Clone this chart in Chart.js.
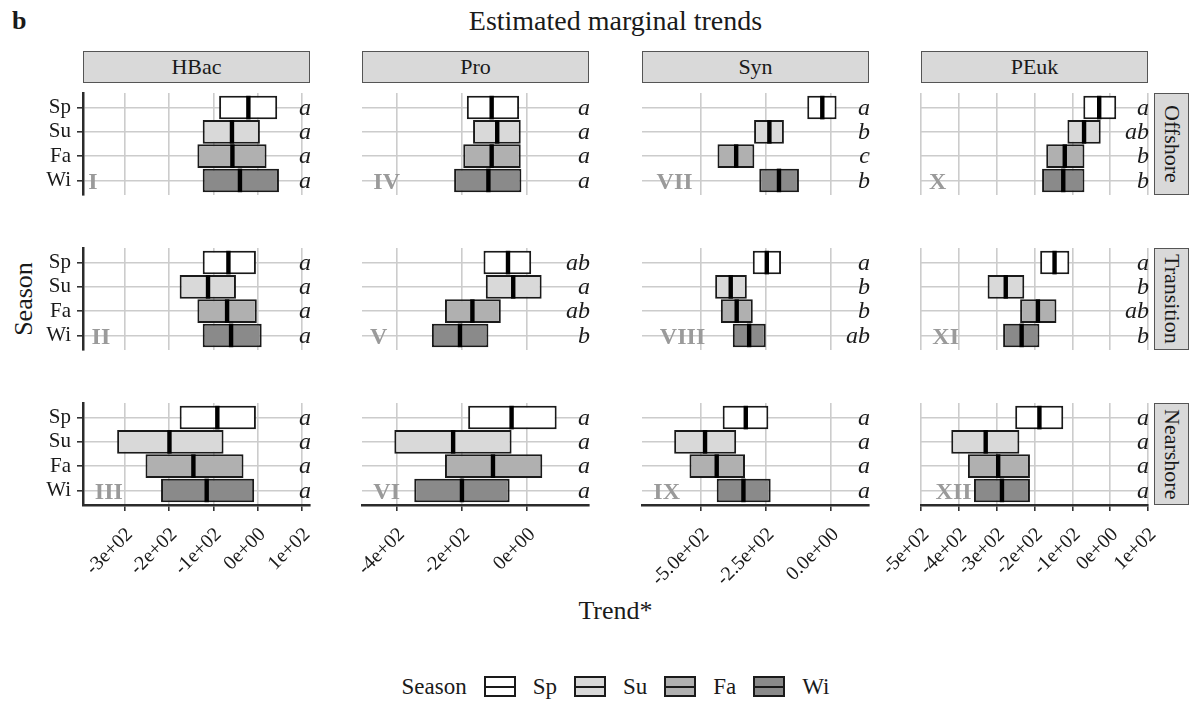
<!DOCTYPE html>
<html>
<head>
<meta charset="utf-8">
<title>Estimated marginal trends</title>
<script src="https://cdn.jsdelivr.net/npm/chart.js@4.4.1/dist/chart.umd.min.js"></script>
<style>
  html, body { margin: 0; padding: 0; background: #fff; }
  body {
    width: 1192px; height: 702px; position: relative; overflow: hidden;
    font-family: 'Liberation Serif', 'Times New Roman', serif; color: #1a1a1a;
  }
  .txt { position: absolute; white-space: nowrap; line-height: 1; }
  .strip {
    position: absolute; box-sizing: border-box; background: #d9d9d9;
    border: 1.5px solid #555; display: flex; align-items: center; justify-content: center;
    font-size: 22px; line-height: 1; color: #1a1a1a;
  }
  .strip.side span { writing-mode: vertical-rl; }
  canvas { position: absolute; }
  .legend {
    position: absolute; left: 83px; width: 1065px; top: 676px; height: 21px;
    display: flex; justify-content: center; align-items: center; font-size: 23px; line-height: 1;
  }
  .legend span { margin-right: 17px; }
  .key {
    width: 32px; height: 21px; box-sizing: border-box; border: 2px solid #1a1a1a;
    position: relative; margin-right: 17px;
  }
  .key::after {
    content: ''; position: absolute; left: 0; right: 0; top: 50%; height: 2px;
    margin-top: -1px; background: #1a1a1a;
  }
</style>
</head>
<body>
<div class="txt" style="left:12px;top:8px;font-size:26px;font-weight:bold;">b</div>
<div class="txt" style="left:83px;width:1065px;top:7px;font-size:28px;text-align:center;">Estimated marginal trends</div>
<div class="txt" style="left:24px;top:299px;font-size:26px;transform:translate(-50%,-50%) rotate(-90deg);">Season</div>
<div class="txt" style="left:83px;width:1065px;top:598px;font-size:26px;text-align:center;">Trend*</div>
<div class="legend" id="legend"></div>

<script>
// ---- data -----------------------------------------------------------------
const seasons = ['Sp', 'Su', 'Fa', 'Wi'];
const groups = ['HBac', 'Pro', 'Syn', 'PEuk'];
const zones = ['Offshore', 'Transition', 'Nearshore'];
const seasonFill = ['#ffffff', '#d9d9d9', '#b0b0b0', '#8a8a8a'];

// lower bound, median and upper bound of the trend; rows = zones, columns = seasons
const hbacLow  = [[-87, -124, -136, -124], [-124, -176, -136, -124], [-176, -317, -253, -218]];
const hbacMid  = [[-21, -58, -57, -40],    [-66, -112, -69, -60],    [-91, -199, -145, -115]];
const hbacHigh = [[44, 5, 20, 48],         [-4, -49, -2, 9],         [-4, -77, -32, -8]];

const proLow  = [[-185, -166, -196, -224], [-134, -127, -252, -292], [-181, -407, -252, -346]];
const proMid  = [[-109, -92, -109, -119],  [-59, -43, -168, -206],   [-48, -227, -105, -200]];
const proHigh = [[-25, -20, -20, -18],     [12, 44, -81, -119],      [90, -48, 46, -54]];

const synLow  = [[-91, -296, -437, -276],  [-301, -446, -424, -378], [-417, -604, -545, -440]];
const synMid  = [[-33, -237, -365, -200],  [-247, -386, -363, -315], [-328, -485, -440, -337]];
const synHigh = [[22, -181, -295, -123],   [-192, -324, -301, -251], [-241, -365, -331, -232]];

const peukLow  = [[-71, -113, -169, -180], [-185, -324, -238, -283], [-251, -420, -376, -360]];
const peukMid  = [[-29, -69, -120, -124],  [-147, -276, -191, -234], [-187, -329, -296, -286]];
const peukHigh = [[16, -25, -68, -68],     [-108, -227, -142, -187], [-124, -240, -212, -212]];

// significance letters per zone and season
const hbacLetters = [['a', 'a', 'a', 'a'], ['a', 'a', 'a', 'a'], ['a', 'a', 'a', 'a']];
const proLetters  = [['a', 'a', 'a', 'a'], ['ab', 'a', 'ab', 'b'], ['a', 'a', 'a', 'a']];
const synLetters  = [['a', 'b', 'c', 'b'], ['a', 'b', 'b', 'ab'], ['a', 'a', 'a', 'a']];
const peukLetters = [['a', 'ab', 'b', 'b'], ['a', 'b', 'ab', 'b'], ['a', 'a', 'a', 'a']];

const panelNumerals = [['I', 'II', 'III'], ['IV', 'V', 'VI'], ['VII', 'VIII', 'IX'], ['X', 'XI', 'XII']];

// free x scale per group
const xMin = [-394, -506, -728, -500];
const xMax = [118, 189, 147, 100];
const xTicks = [
  [-300, -200, -100, 0, 100],
  [-400, -200, 0],
  [-500, -250, 0],
  [-500, -400, -300, -200, -100, 0, 100]
];
const xTickLabels = [
  ['-3e+02', '-2e+02', '-1e+02', '0e+00', '1e+02'],
  ['-4e+02', '-2e+02', '0e+00'],
  ['-5.0e+02', '-2.5e+02', '0.0e+00'],
  ['-5e+02', '-4e+02', '-3e+02', '-2e+02', '-1e+02', '0e+00', '1e+02']
];

const lows = [hbacLow, proLow, synLow, peukLow];
const mids = [hbacMid, proMid, synMid, peukMid];
const highs = [hbacHigh, proHigh, synHigh, peukHigh];
const letters = [hbacLetters, proLetters, synLetters, peukLetters];

// ---- layout ---------------------------------------------------------------
const PANEL_LEFT = [83, 362, 642, 921];
const PANEL_TOP = [93, 248, 403];
const PANEL_W = 227;
const PANEL_H = 102;
const FONT = "'Liberation Serif', 'Times New Roman', serif";

Chart.defaults.font.family = FONT;
Chart.defaults.color = '#1a1a1a';

// strips
groups.forEach((g, c) => {
  const d = document.createElement('div');
  d.className = 'strip';
  d.style.cssText = `left:${PANEL_LEFT[c]}px;top:51px;width:${PANEL_W}px;height:32px;`;
  d.textContent = g;
  document.body.appendChild(d);
});
zones.forEach((z, r) => {
  const d = document.createElement('div');
  d.className = 'strip side';
  d.style.cssText = `left:1154px;top:${PANEL_TOP[r]}px;width:35px;height:${PANEL_H}px;`;
  const s = document.createElement('span');
  s.textContent = z;
  d.appendChild(s);
  document.body.appendChild(d);
});

// legend
const legend = document.getElementById('legend');
const lt = document.createElement('span');
lt.textContent = 'Season';
legend.appendChild(lt);
seasons.forEach((s, i) => {
  const k = document.createElement('div');
  k.className = 'key';
  k.style.background = seasonFill[i];
  legend.appendChild(k);
  const t = document.createElement('span');
  t.textContent = s;
  if (i === seasons.length - 1) t.style.marginRight = '0';
  legend.appendChild(t);
});

// median bars, letters and panel numerals
function crossbarAnnotations(midVals, letterVals, numeral) {
  return {
    id: 'crossbarAnnotations',
    afterDatasetsDraw(chart) {
      const { ctx, chartArea, scales } = chart;
      const meta = chart.getDatasetMeta(0);
      ctx.save();
      ctx.fillStyle = '#000';
      meta.data.forEach((bar, i) => {
        const { y, height } = bar.getProps(['y', 'height'], true);
        const px = scales.x.getPixelForValue(midVals[i]);
        ctx.fillRect(px - 2.2, y - height / 2, 4.4, height);
      });
      ctx.font = `italic 24px ${FONT}`;
      ctx.fillStyle = '#1a1a1a';
      ctx.textAlign = 'right';
      ctx.textBaseline = 'middle';
      letterVals.forEach((t, i) => {
        ctx.fillText(t, chartArea.right + 1, scales.y.getPixelForValue(i + 1) + 1);
      });
      ctx.font = `bold 24px ${FONT}`;
      ctx.fillStyle = '#9a9a9a';
      ctx.textAlign = 'left';
      ctx.textBaseline = 'alphabetic';
      const w = ctx.measureText(numeral).width;
      ctx.fillText(numeral, chartArea.left + 2 + 0.35 * w, scales.y.getPixelForValue(seasons.length) + 8.5);
      ctx.restore();
    }
  };
}

function zeroPadding(s) {
  s.paddingLeft = 0; s.paddingRight = 0; s.paddingTop = 0; s.paddingBottom = 0;
}

function makePanel(c, r) {
  const firstCol = c === 0;
  const lastRow = r === zones.length - 1;
  const padL = 80, padR = 30, padT = 4, padB = lastRow ? 100 : 4;
  const w = PANEL_W + padL + padR;
  const h = PANEL_H + padT + padB;
  const cv = document.createElement('canvas');
  cv.width = w; cv.height = h;
  cv.style.left = (PANEL_LEFT[c] - padL) + 'px';
  cv.style.top = (PANEL_TOP[r] - padT) + 'px';
  cv.style.width = w + 'px';
  cv.style.height = h + 'px';
  document.body.appendChild(cv);

  new Chart(cv, {
    type: 'bar',
    data: {
      datasets: [{
        data: seasons.map((s, i) => ({ y: i + 1, x: [lows[c][r][i], highs[c][r][i]] })),
        backgroundColor: seasonFill,
        borderColor: '#1a1a1a',
        borderWidth: 2,
        borderSkipped: false,
        categoryPercentage: 0.97,
        barPercentage: 1
      }]
    },
    options: {
      indexAxis: 'y',
      responsive: false,
      animation: false,
      devicePixelRatio: 1,
      events: [],
      layout: { padding: { left: firstCol ? 0 : padL, right: padR, top: padT, bottom: lastRow ? 0 : padB } },
      plugins: { legend: { display: false }, tooltip: { enabled: false } },
      scales: {
        x: {
          type: 'linear', position: 'bottom', min: xMin[c], max: xMax[c],
          afterBuildTicks: s => { s.ticks = xTicks[c].map(v => ({ value: v })); },
          afterFit: s => { s.height = lastRow ? padB : 0; zeroPadding(s); },
          ticks: {
            display: lastRow, minRotation: 45, maxRotation: 45, autoSkip: false,
            padding: 12, labelOffset: 5,
            color: '#1a1a1a', font: { size: 20 },
            callback: (v, i) => xTickLabels[c][i]
          },
          grid: { color: '#cccccc', lineWidth: 1.6, drawTicks: lastRow, tickLength: 6, tickColor: '#333', tickWidth: 1.6, offset: false },
          border: { display: lastRow, color: '#2b2b2b', width: 2.5 }
        },
        y: {
          type: 'linear', position: 'left', reverse: true, min: 0.4, max: 4.6, offset: false,
          afterBuildTicks: s => { s.ticks = seasons.map((_, i) => ({ value: i + 1 })); },
          afterFit: s => { s.width = firstCol ? padL : 0; zeroPadding(s); },
          ticks: {
            display: firstCol, autoSkip: false, padding: 6, color: '#1a1a1a', font: { size: 21 },
            callback: v => seasons[v - 1]
          },
          grid: { color: '#cccccc', lineWidth: 1.6, drawTicks: firstCol, tickLength: 6, tickColor: '#333', tickWidth: 1.6, offset: false },
          border: { display: firstCol, color: '#2b2b2b', width: 2.5 }
        }
      }
    },
    plugins: [crossbarAnnotations(mids[c][r], letters[c][r], panelNumerals[c][r])]
  });
}

for (let r = 0; r < zones.length; r++) {
  for (let c = 0; c < groups.length; c++) makePanel(c, r);
}
</script>
</body>
</html>
